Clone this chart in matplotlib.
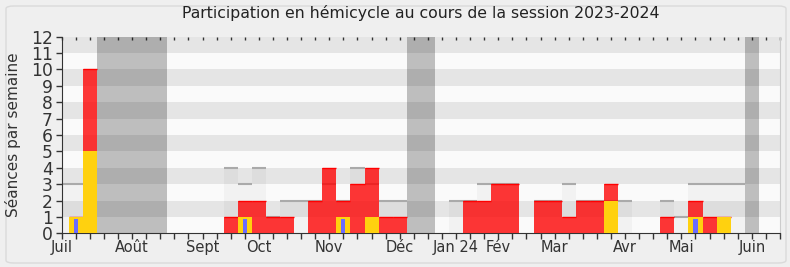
import numpy as np
import matplotlib
matplotlib.use("Agg")
import matplotlib.pyplot as plt
from matplotlib.patches import FancyBboxPatch

plt.rcParams["font.family"] = "DejaVu Sans"

# weekly values, week 0 = first week of July 2023
weeks = np.arange(51)
presence = [0, 1, 10, 0, 0, 0, 0, 0, 0, 0, 0, 0, 1, 2, 2, 1, 1, 0, 2, 4,
            2, 3, 4, 1, 1, 0, 0, 0, 0, 2, 2, 3, 3, 0, 2, 2, 1, 2, 2, 3,
            0, 0, 0, 1, 0, 2, 1, 1, 0, 0, 0]
interventions = [0, 1, 5, 0, 0, 0, 0, 0, 0, 0, 0, 0, 0, 1, 0, 0, 0, 0, 0, 0,
                 1, 0, 1, 0, 0, 0, 0, 0, 0, 0, 0, 0, 0, 0, 0, 0, 0, 0, 0, 2,
                 0, 0, 0, 0, 0, 1, 0, 1, 0, 0, 0]
questions = [0, 0.9, 0, 0, 0, 0, 0, 0, 0, 0, 0, 0, 0, 0.9, 0, 0, 0, 0, 0, 0,
             0.9, 0, 0, 0, 0, 0, 0, 0, 0, 0, 0, 0, 0, 0, 0, 0, 0, 0, 0, 0,
             0, 0, 0, 0, 0, 0.9, 0, 0, 0, 0, 0]
mediane = [3, 3, 3, 0, 0, 0, 0, 0, 0, 0, 0, 0, 4, 3, 4, 1, 2, 2, 2, 3,
           2, 4, 3, 2, 2, 0, 0, 0, 2, 2, 3, 3, 3, 0, 2, 2, 3, 2, 2, 2,
           2, 0, 0, 2, 1, 3, 3, 3, 3, 0, 0]
vacances = [3, 4, 5, 6, 7, 25, 26, 49]

month_labels = ["Juil", "Août", "Sept", "Oct", "Nov", "Déc", "Jan 24", "Fév",
                "Mar", "Avr", "Mai", "Juin"]
month_weeks = [0, 5, 10, 14, 19, 24, 28, 31, 35, 40, 44, 49]

W, H = 790, 267
fig = plt.figure(figsize=(W / 100, H / 100), dpi=100, facecolor="#efefef")
ax = fig.add_axes([61.7 / W, 1 - 233.3 / H, (780 - 61.7) / W, (233.3 - 36.7) / H])

# rounded frame around the whole picture
fig.patches.append(FancyBboxPatch((6 / W, 4 / H), 780 / W, 257 / H,
                                  boxstyle="round,pad=0,rounding_size=0.01",
                                  transform=fig.transFigure, facecolor="none",
                                  edgecolor="#dadada", linewidth=1))

# alternating horizontal bands
for i in range(12):
    ax.axhspan(i, i + 1, color="#e5e5e5" if i % 2 else "#fafafa", lw=0, zorder=0)

# holidays, grouped in contiguous blocks
groups = []
for w in vacances:
    if groups and w == groups[-1][1] + 1:
        groups[-1][1] = w
    else:
        groups.append([w, w])
for a, b in groups:
    ax.axvspan(a - 0.5, b + 0.5, color="black", alpha=0.24, lw=0, zorder=1)

med = np.array(mediane, dtype=float)
pres = np.array(presence, dtype=float)
inter = np.array(interventions, dtype=float)
ques = np.array(questions, dtype=float)

ax.bar(weeks, med, width=1, color="black", alpha=0.03, lw=0, zorder=2)
m = med > 0
ax.hlines(med[m], weeks[m] - 0.5, weeks[m] + 0.5, color="#aaaaaa", lw=1.5, zorder=2.5)

ax.bar(weeks, pres, width=1, color="#ff0000", alpha=0.78, lw=0, zorder=3)
p = pres > 0
ax.hlines(pres[p], weeks[p] - 0.5, weeks[p] + 0.5, color="#ff0000", lw=1, zorder=3.5)

ax.bar(weeks, inter, width=1, color="#ffd10f", lw=0, zorder=4)
ax.bar(weeks, ques, width=0.3, color="#6b6bff", lw=0, zorder=5)

ax.set_xlim(0, 51)
ax.set_ylim(0, 12)
ax.set_yticks(range(13))
ax.set_xticks(month_weeks)
ax.set_xticklabels(month_labels)
ax.set_xticks(range(52), minor=True)

ax.tick_params(axis="x", which="both", length=4, width=1, color="#333333",
               labelsize=10.5, labelcolor="#333333", pad=1)
ax.tick_params(axis="y", length=4, width=1, color="#333333",
               labelsize=12.3, labelcolor="#333333", pad=2.5)

sec = ax.secondary_xaxis("top")
sec.set_xticks(range(52))
sec.tick_params(direction="in", length=2, width=1, color="#333333", labeltop=False)
sec.spines["top"].set_visible(False)

ax.spines["top"].set_visible(False)
ax.spines["right"].set_color("#cccccc")
ax.spines["left"].set_color("#333333")
ax.spines["bottom"].set_color("#333333")

fig.text(13 / W, 1 - 135 / H, "Séances par semaine", rotation=90,
         ha="center", va="center", fontsize=11, color="#333333")
fig.text(421 / W, 1 - 13 / H, "Participation en hémicycle au cours de la session 2023-2024",
         ha="center", va="center", fontsize=11.3, color="#222222")

fig.savefig("out.png", dpi=100, facecolor=fig.get_facecolor())
